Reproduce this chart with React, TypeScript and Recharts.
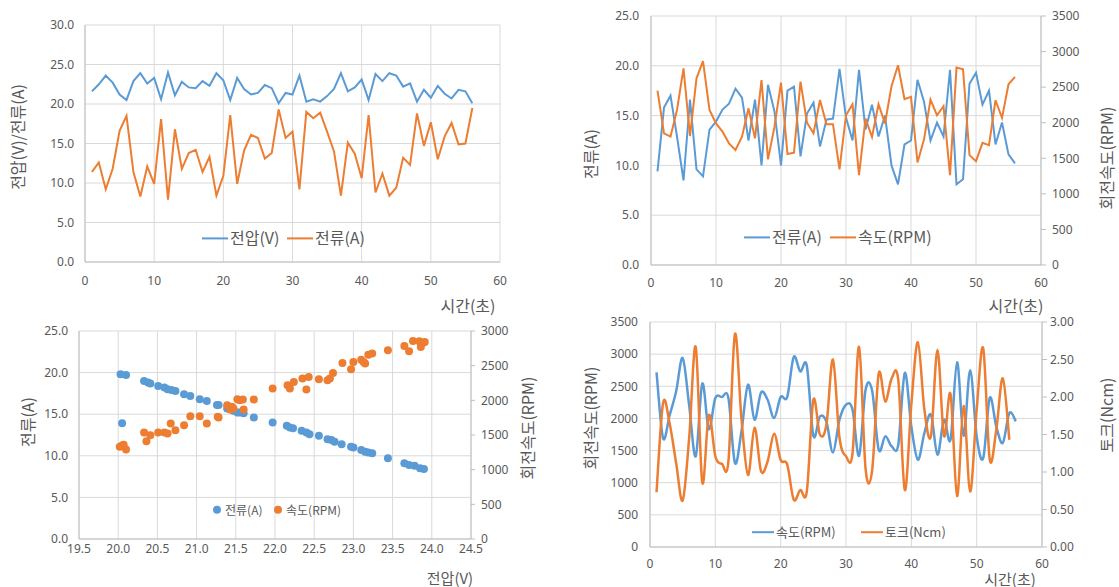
import { LineChart, Line, XAxis, YAxis, CartesianGrid, ScatterChart, Scatter } from 'recharts';

const FONT = "'Noto Sans CJK KR', 'Noto Sans', sans-serif";
const TICK_FONT = "'Noto Sans', 'Noto Sans CJK KR', sans-serif";
const BLUE = '#5B9BD5';
const ORANGE = '#ED7D31';
const GRID = '#D9D9D9';
const AXIS = '#BFBFBF';
const TEXT = '#595959';

// 시간(초) 1..56
const seconds = [1, 2, 3, 4, 5, 6, 7, 8, 9, 10, 11, 12, 13, 14, 15, 16, 17, 18, 19, 20, 21, 22, 23, 24, 25, 26, 27, 28, 29, 30, 31, 32, 33, 34, 35, 36, 37, 38, 39, 40, 41, 42, 43, 44, 45, 46, 47, 48, 49, 50, 51, 52, 53, 54, 55, 56];

// chart 1: 전압 / 전류
const voltage1 = [21.6, 22.5, 23.6, 22.7, 21.2, 20.5, 22.9, 23.9, 22.6, 23.3, 20.6, 24.0, 21.1, 22.8, 22.1, 22.0, 22.9, 22.3, 23.9, 23.0, 20.5, 23.3, 21.9, 21.2, 21.4, 22.4, 22.0, 20.1, 21.4, 21.2, 23.6, 20.3, 20.6, 20.3, 21.0, 21.9, 23.9, 21.6, 22.1, 23.1, 20.5, 23.8, 22.9, 23.9, 23.6, 22.2, 22.6, 20.3, 21.8, 20.8, 22.3, 21.3, 20.7, 21.8, 21.6, 20.1];
const current1 = [11.4, 12.6, 9.2, 11.8, 16.6, 18.5, 11.4, 8.3, 12.1, 9.9, 18.1, 7.9, 16.8, 11.8, 13.8, 14.2, 11.4, 13.3, 8.4, 10.9, 18.6, 9.9, 14.1, 16.1, 15.7, 13.1, 13.8, 19.3, 15.7, 16.5, 9.2, 19.0, 18.2, 18.9, 16.5, 14.0, 8.4, 15.1, 13.7, 10.6, 18.6, 8.8, 11.2, 8.4, 9.4, 13.2, 12.3, 18.8, 14.7, 17.7, 13.0, 15.9, 17.6, 14.9, 15.0, 19.5];

// chart 2: 전류 / 속도
const current2 = [9.4, 15.8, 17.0, 12.9, 8.5, 16.6, 9.6, 8.9, 13.6, 14.4, 15.6, 16.2, 17.7, 16.8, 12.5, 16.6, 10.0, 18.1, 15.4, 10.0, 17.5, 17.9, 10.9, 15.2, 16.3, 11.9, 14.6, 14.7, 19.7, 14.8, 12.5, 19.6, 13.6, 16.1, 12.9, 15.0, 10.0, 8.1, 12.1, 12.5, 18.6, 16.4, 12.5, 14.3, 12.9, 19.6, 8.1, 8.6, 18.2, 19.3, 16.1, 17.5, 12.1, 14.3, 11.1, 10.2];
const speed2 = [2450, 1850, 1804, 2179, 2764, 1813, 2624, 2867, 2179, 1991, 1874, 1710, 1616, 1804, 2202, 1780, 2600, 1485, 1944, 2563, 1560, 1579, 2577, 2000, 1850, 2319, 1977, 1977, 1345, 2105, 2260, 1263, 2059, 1801, 2260, 1989, 2513, 2807, 2330, 2363, 1441, 1764, 2325, 2105, 2232, 1263, 2775, 2751, 1544, 1460, 1717, 1684, 2316, 2068, 2541, 2644];

// chart 3: 전압 vs 전류 / 속도
const voltageA = [20.03, 20.10, 20.05, 20.33, 20.38, 20.41, 20.51, 20.59, 20.63, 20.68, 20.73, 20.84, 20.92, 21.04, 21.13, 21.26, 21.28, 21.39, 21.43, 21.47, 21.52, 21.55, 21.60, 21.73, 21.97, 22.15, 22.19, 22.23, 22.34, 22.40, 22.44, 22.56, 22.67, 22.72, 22.76, 22.85, 22.97, 23.00, 23.10, 23.15, 23.19, 23.24, 23.44, 23.65, 23.71, 23.78, 23.85, 23.90];
const currentA = [19.8, 19.7, 13.9, 19.0, 18.8, 18.7, 18.4, 18.2, 18.0, 17.9, 17.8, 17.4, 17.2, 16.8, 16.6, 16.1, 16.1, 15.7, 15.6, 15.4, 15.2, 15.2, 15.1, 14.6, 14.0, 13.6, 13.4, 13.3, 13.0, 12.8, 12.6, 12.4, 12.0, 11.9, 11.7, 11.4, 11.1, 11.0, 10.7, 10.5, 10.4, 10.3, 9.7, 9.1, 8.9, 8.8, 8.5, 8.4];
const voltageS = [20.02, 20.05, 20.07, 20.10, 20.33, 20.36, 20.41, 20.51, 20.59, 20.63, 20.67, 20.73, 20.84, 20.92, 21.04, 21.13, 21.27, 21.28, 21.39, 21.43, 21.45, 21.47, 21.52, 21.55, 21.59, 21.60, 21.73, 21.97, 22.16, 22.19, 22.24, 22.35, 22.40, 22.43, 22.56, 22.67, 22.70, 22.74, 22.86, 22.97, 23.00, 23.10, 23.13, 23.15, 23.19, 23.24, 23.44, 23.65, 23.71, 23.76, 23.84, 23.86, 23.89, 23.91];
const speedS = [1330, 1349, 1360, 1291, 1536, 1411, 1498, 1536, 1536, 1522, 1666, 1570, 1642, 1771, 1771, 1666, 1762, 1752, 1930, 1867, 1906, 1882, 2016, 2002, 2011, 1867, 2011, 2170, 2218, 2170, 2266, 2314, 2155, 2338, 2304, 2290, 2314, 2395, 2539, 2448, 2554, 2587, 2554, 2530, 2659, 2674, 2722, 2784, 2707, 2856, 2851, 2770, 2832, 2842];

// chart 4: 속도 / 토크
const speed4 = [2717, 1695, 2050, 2420, 2940, 2200, 1410, 2540, 1835, 2317, 2333, 2317, 1307, 1800, 2525, 1980, 2405, 2290, 2006, 2333, 2333, 2955, 2732, 2820, 1730, 2030, 1950, 1470, 1980, 2214, 2136, 1420, 2447, 2432, 1514, 1721, 1566, 1592, 2707, 1877, 1358, 1773, 2058, 1436, 1980, 1670, 2873, 1732, 2748, 1721, 1384, 2318, 1877, 1618, 2084, 1955];
const torque4 = [0.73, 1.92, 1.65, 1.12, 0.62, 1.46, 2.67, 0.86, 1.76, 1.21, 1.11, 1.14, 2.84, 1.71, 0.96, 1.59, 1.01, 1.14, 1.51, 1.16, 1.10, 0.63, 0.76, 0.74, 1.96, 1.50, 1.63, 2.50, 1.46, 1.21, 1.25, 2.67, 1.04, 1.02, 2.31, 1.94, 2.25, 2.23, 0.76, 1.90, 2.73, 1.83, 1.48, 2.63, 1.48, 2.04, 0.68, 1.88, 0.74, 1.83, 2.65, 1.17, 1.56, 2.25, 1.43];

const timeTicks = [0, 10, 20, 30, 40, 50, 60];
const ampTicks30 = [0, 5, 10, 15, 20, 25, 30];
const ampTicks25 = [0, 5, 10, 15, 20, 25];
const rpmTicks3500 = [0, 500, 1000, 1500, 2000, 2500, 3000, 3500];
const rpmTicks3000 = [0, 500, 1000, 1500, 2000, 2500, 3000];
const voltTicks = [19.5, 20, 20.5, 21, 21.5, 22, 22.5, 23, 23.5, 24, 24.5];
const torqueTicks = [0, 0.5, 1, 1.5, 2, 2.5, 3];

const data1 = seconds.map((t, i) => ({ t, v: voltage1[i], a: current1[i] }));
const data2 = seconds.map((t, i) => ({ t, a: current2[i], rpm: speed2[i] }));
const pointsA = voltageA.map((v, i) => ({ v, a: currentA[i] }));
const pointsS = voltageS.map((v, i) => ({ v, rpm: speedS[i] }));
const data4 = seconds.map((t, i) => ({ t, rpm: speed4[i], nm: torque4[i] }));

const tick = { fill: TEXT, fontSize: 12, fontFamily: TICK_FONT };
const f1 = (v: number) => v.toFixed(1);
const f2 = (v: number) => v.toFixed(2);

// Excel-style smoothed line (Catmull-Rom as cubic beziers)
const excelSmooth: any = (context: any) => {
  let pts: number[][] = [];
  return {
    areaStart() {},
    areaEnd() {},
    lineStart() { pts = []; },
    point(x: number, y: number) { pts.push([+x, +y]); },
    lineEnd() {
      if (!pts.length) return;
      context.moveTo(pts[0][0], pts[0][1]);
      for (let i = 0; i < pts.length - 1; i++) {
        const p0 = pts[i - 1] || pts[i];
        const p1 = pts[i];
        const p2 = pts[i + 1];
        const p3 = pts[i + 2] || p2;
        context.bezierCurveTo(
          p1[0] + (p2[0] - p0[0]) / 6, p1[1] + (p2[1] - p0[1]) / 6,
          p2[0] - (p3[0] - p1[0]) / 6, p2[1] - (p3[1] - p1[1]) / 6,
          p2[0], p2[1],
        );
      }
    },
  };
};

function VLabel({ x, y, text, size = 16 }: { x: number; y: number; text: string; size?: number }) {
  return (
    <div style={{ position: 'absolute', left: x, top: y, transform: 'translate(-50%,-50%) rotate(-90deg)', whiteSpace: 'nowrap', lineHeight: 1, fontSize: size, fontFamily: FONT, color: TEXT }}>
      {text}
    </div>
  );
}

function HLabel({ x, y, text, size = 16 }: { x: number; y: number; text: string; size?: number }) {
  return (
    <div style={{ position: 'absolute', left: x, top: y, transform: 'translate(-50%,-50%)', whiteSpace: 'nowrap', lineHeight: 1, fontSize: size, fontFamily: FONT, color: TEXT }}>
      {text}
    </div>
  );
}

function Key({ x, y, color, text, size, w = 26, dot = false }: { x: number; y: number; color: string; text: string; size: number; w?: number; dot?: boolean }) {
  return (
    <div style={{ position: 'absolute', left: x, top: y, transform: 'translateY(-50%)', display: 'flex', alignItems: 'center', whiteSpace: 'nowrap', lineHeight: 1.2, fontSize: size, fontFamily: FONT, color: TEXT }}>
      {dot
        ? <span style={{ width: 8, height: 8, borderRadius: '50%', background: color, marginRight: 4 }} />
        : <span style={{ width: w, height: 2, background: color, marginRight: 2 }} />}
      <span>{text}</span>
    </div>
  );
}

const dotShape = (color: string) => (p: any) => <circle cx={p.cx} cy={p.cy} r={4} fill={color} />;

export default function App() {
  return (
    <div style={{ position: 'absolute', left: 0, top: 0, width: 1119, height: 587, background: '#fff' }}>
      <div style={{ position: 'absolute', left: 0, top: 0 }}>
        <LineChart width={560} height={310} data={data1} margin={{ top: 25, right: 60, bottom: 18, left: 45 }}>
          <CartesianGrid stroke={GRID} />
          <XAxis dataKey="t" type="number" domain={[0, 60]} ticks={timeTicks} height={30} axisLine={{ stroke: AXIS }} tickLine={false} tickSize={0} tickMargin={14} tick={tick} />
          <YAxis type="number" domain={[0, 30]} ticks={ampTicks30} tickFormatter={f1} width={40} axisLine={{ stroke: AXIS }} tickLine={false} tickSize={0} tickMargin={11} tick={tick} />
          <Line type="linear" dataKey="v" stroke={BLUE} strokeWidth={2} dot={false} isAnimationActive={false} />
          <Line type="linear" dataKey="a" stroke={ORANGE} strokeWidth={2} dot={false} isAnimationActive={false} />
        </LineChart>
      </div>

      <div style={{ position: 'absolute', left: 560, top: 0 }}>
        <LineChart width={559} height={310} data={data2} margin={{ top: 16, right: 28, bottom: 15, left: 51 }}>
          <CartesianGrid stroke={GRID} />
          <XAxis dataKey="t" type="number" domain={[0, 60]} ticks={timeTicks} height={30} axisLine={{ stroke: AXIS }} tickLine={false} tickSize={0} tickMargin={13} tick={tick} />
          <YAxis type="number" domain={[0, 25]} ticks={ampTicks25} tickFormatter={f1} width={40} axisLine={{ stroke: AXIS }} tickLine={false} tickSize={0} tickMargin={12} tick={tick} />
          <YAxis yAxisId="right" orientation="right" type="number" domain={[0, 3500]} ticks={rpmTicks3500} width={50} axisLine={{ stroke: AXIS }} tickLine={{ stroke: AXIS }} tickSize={5} tickMargin={6} tick={tick} />
          <Line type="linear" dataKey="a" stroke={BLUE} strokeWidth={2} dot={false} isAnimationActive={false} />
          <Line type="linear" yAxisId="right" dataKey="rpm" stroke={ORANGE} strokeWidth={2} dot={false} isAnimationActive={false} />
        </LineChart>
      </div>

      <div style={{ position: 'absolute', left: 0, top: 310 }}>
        <ScatterChart width={560} height={277} margin={{ top: 21, right: 39, bottom: 18, left: 39 }}>
          <CartesianGrid stroke={GRID} />
          <XAxis dataKey="v" type="number" domain={[19.5, 24.5]} ticks={voltTicks} tickFormatter={f1} height={30} axisLine={{ stroke: AXIS }} tickLine={false} tickSize={0} tickMargin={5} tick={tick} />
          <YAxis dataKey="a" type="number" domain={[0, 25]} ticks={ampTicks25} tickFormatter={f1} width={40} axisLine={{ stroke: AXIS }} tickLine={false} tickSize={0} tickMargin={11} tick={tick} />
          <YAxis yAxisId="right" dataKey="rpm" orientation="right" type="number" domain={[0, 3000]} ticks={rpmTicks3000} width={50} axisLine={{ stroke: AXIS }} tickLine={{ stroke: AXIS }} tickSize={4} tickMargin={6} tick={tick} />
          <Scatter data={pointsA} fill={BLUE} shape={dotShape(BLUE)} isAnimationActive={false} />
          <Scatter data={pointsS} yAxisId="right" fill={ORANGE} shape={dotShape(ORANGE)} isAnimationActive={false} />
        </ScatterChart>
      </div>

      <div style={{ position: 'absolute', left: 560, top: 310 }}>
        <LineChart width={559} height={277} data={data4} margin={{ top: 12, right: 27, bottom: 10, left: 50 }}>
          <CartesianGrid stroke={GRID} />
          <XAxis dataKey="t" type="number" domain={[0, 60]} ticks={timeTicks} height={30} axisLine={{ stroke: AXIS }} tickLine={false} tickSize={0} tickMargin={12} tick={tick} />
          <YAxis type="number" domain={[0, 3500]} ticks={rpmTicks3500} width={40} axisLine={{ stroke: AXIS }} tickLine={false} tickSize={0} tickMargin={12} tick={tick} />
          <YAxis yAxisId="right" orientation="right" type="number" domain={[0, 3]} ticks={torqueTicks} tickFormatter={f2} width={50} axisLine={{ stroke: AXIS }} tickLine={{ stroke: AXIS }} tickSize={5} tickMargin={3} tick={tick} />
          <Line type={excelSmooth} dataKey="rpm" stroke={BLUE} strokeWidth={2.5} dot={false} isAnimationActive={false} />
          <Line type={excelSmooth} yAxisId="right" dataKey="nm" stroke={ORANGE} strokeWidth={2.5} dot={false} isAnimationActive={false} />
        </LineChart>
      </div>

      {/* axis titles */}
      <VLabel x={17} y={137} text="전압(V)/전류(A)" />
      <HLabel x={468} y={305} text="시간(초)" />
      <VLabel x={590} y={154} text="전류(A)" />
      <VLabel x={1106} y={158} text="회전속도(RPM)" />
      <HLabel x={1016} y={305} text="시간(초)" />
      <VLabel x={27} y={422} text="전류(A)" />
      <VLabel x={527} y={428} text="회전속도(RPM)" />
      <HLabel x={450} y={577} text="전압(V)" size={15} />
      <VLabel x={590} y={418} text="회전속도(RPM)" />
      <VLabel x={1106} y={415} text="토크(Ncm)" />
      <HLabel x={1010} y={578} text="시간(초)" size={15} />

      {/* legends */}
      <Key x={202} y={238} color={BLUE} text="전압(V)" size={16} />
      <Key x={287} y={238} color={ORANGE} text="전류(A)" size={16} />
      <Key x={744} y={237} color={BLUE} text="전류(A)" size={16} />
      <Key x={830} y={237} color={ORANGE} text="속도(RPM)" size={16} />
      <Key x={213} y={510} color={BLUE} text="전류(A)" size={12} dot />
      <Key x={274} y={510} color={ORANGE} text="속도(RPM)" size={12} dot />
      <Key x={752} y={532} color={BLUE} text="속도(RPM)" size={13} w={22} />
      <Key x={861} y={532} color={ORANGE} text="토크(Ncm)" size={13} w={22} />
    </div>
  );
}
